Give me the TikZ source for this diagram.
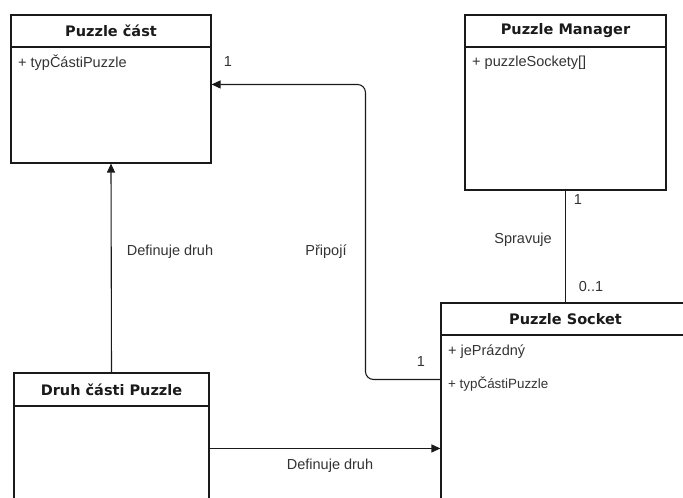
\documentclass[tikz,border=0pt]{standalone}
\usepackage{fontspec}
\setmainfont{Liberation Sans}
\newfontfamily\headfont{DejaVu Sans}
\usetikzlibrary{positioning,arrows.meta}
\definecolor{umlLine}{HTML}{1A1A1A}
\definecolor{umlText}{HTML}{333333}
\tikzstyle{classBox}=[shape = rectangle, draw = umlLine, line width = 1.1pt, inner sep = 0pt]
\tikzstyle{classHead}=[shape = rectangle, draw = umlLine, line width = 1.1pt, inner sep = 0pt, font = \headfont\bfseries\fontsize{14.5}{16}\selectfont, text = umlLine]

\begin{document}
\begin{tikzpicture}[x = 1pt, y = -1pt]
\tikzstyle{attrStyle}=[anchor = west, inner sep = 0pt, text = umlText, font = \fontsize{14.5}{16}\selectfont]
\tikzstyle{labelStyle}=[inner sep = 0pt, text = umlText, font = \fontsize{14.5}{16}\selectfont]
\tikzstyle{assocStyle}=[draw = umlLine, line width = 1.1pt]
\tikzstyle{arrowStyle}=[assocStyle, -{Triangle[length = 9pt, width = 8pt]}]
\useasboundingbox (0,0) rectangle (683,498);
\clip (0,0) rectangle (683,498);
% classes
\node[classBox, minimum width = 200pt, minimum height = 148pt] (cast) at (111,89) {};
\node[classHead, minimum width = 200pt, minimum height = 32pt, anchor = north] (castHead) at (cast.north) {Puzzle část};
\node[attrStyle] (castTyp) at (18,63) {+ typČástiPuzzle};
\node[classBox, minimum width = 201pt, minimum height = 175pt] (manager) at (565.5,102.5) {};
\node[classHead, minimum width = 201pt, minimum height = 32pt, anchor = north] (managerHead) at (manager.north) {Puzzle Manager};
\node[attrStyle] (managerSockety) at (472,63) {+ puzzleSockety[]};
\node[classBox, minimum width = 249pt, minimum height = 240pt] (socket) at (565.5,423) {};
\node[classHead, minimum width = 249pt, minimum height = 32pt, anchor = north] (socketHead) at (socket.north) {Puzzle Socket};
\node[attrStyle] (socketPrazdny) at (448,352) {+ jePrázdný};
\node[attrStyle, font = \fontsize{13.4}{15}\selectfont] (socketTyp) at (448,384) {+ typČástiPuzzle};
\node[classBox, minimum width = 195pt, minimum height = 170pt] (druh) at (111.5,458) {};
\node[classHead, minimum width = 195pt, minimum height = 33pt, anchor = north] (druhHead) at (druh.north) {Druh části Puzzle};
% connectors
\draw[arrowStyle] (druh.north) -- (cast.south);
\coordinate (socketIn) at ([yshift = -77pt]socket.north west);
\coordinate (castIn) at ([yshift = -70pt]cast.north east);
\draw[arrowStyle, rounded corners = 8pt] (socketIn) -- ++(-75,0) |- (castIn);
\draw[assocStyle] (manager.south) -- (manager.south |- socket.north);
\coordinate (druhOut) at ([yshift = -76pt]druh.north east);
\draw[arrowStyle] (druhOut) -- (druhOut -| socket.west);
% labels
\node[labelStyle] (castOne) at (228,62) {1};
\node[labelStyle] (pripojLabel) at (326,252) {Připojí};
\node[labelStyle] (socketOne) at (421,362) {1};
\node[labelStyle] (definujeUp) at (170,252) {Definuje druh};
\node[labelStyle] (managerOne) at (578,200) {1};
\node[labelStyle] (spravujeLabel) at (523,240) {Spravuje};
\node[labelStyle] (socketMany) at (591,287) {0..1};
\node[labelStyle] (definujeDown) at (330,466) {Definuje druh};
\end{tikzpicture}
\end{document}
